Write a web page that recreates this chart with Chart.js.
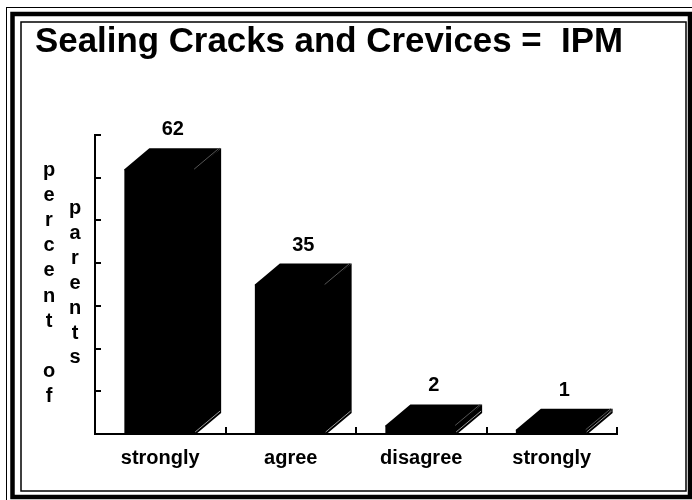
<!DOCTYPE html>
<html>
<head>
<meta charset="utf-8">
<title>Sealing Cracks and Crevices = IPM</title>
<script src="https://cdn.jsdelivr.net/npm/chart.js@4/dist/chart.umd.min.js"></script>
<style>
  html, body { margin: 0; padding: 0; background: #fff; }
  #wrap { width: 692px; height: 500px; position: relative; }
</style>
</head>
<body>
<div id="wrap"><canvas id="ipmChart" width="692" height="500"></canvas></div>
<script>
// Chart data
var chartTitle = 'Sealing Cracks and Crevices =  IPM';
var categories = ['strongly', 'agree', 'disagree', 'strongly'];
var percentValues = [62, 35, 2, 1];
var yTicks = [0, 10, 20, 30, 40, 50, 60, 70];
var yLabelCol1 = ['p', 'e', 'r', 'c', 'e', 'n', 't', '', 'o', 'f'];
var yLabelCol2 = ['p', 'a', 'r', 'e', 'n', 't', 's'];

var FONT = '"Liberation Sans", Arial, Helvetica, sans-serif';
// depth of the fake 3D box
var DEPTH_X = 25;
var DEPTH_Y = 21;

Chart.defaults.color = '#000';
Chart.defaults.font.family = FONT;

// Draws the double frame, the title and the stacked y axis letters
var framePlugin = {
    id: 'frame',
    beforeDraw: function (chart) {
        var ctx = chart.ctx;
        ctx.save();
        ctx.fillStyle = '#fff';
        ctx.fillRect(0, 0, chart.width, chart.height);
        ctx.strokeStyle = '#000';
        // outer thin line
        ctx.lineWidth = 1;
        ctx.strokeRect(6.5, 7.5, 720, 620);
        // thick line
        ctx.lineWidth = 4.5;
        ctx.strokeRect(12.5, 14, 677.5, 483);
        // inner thin line
        ctx.lineWidth = 1.5;
        ctx.strokeRect(21, 22, 665, 469);
        ctx.restore();
    },
    afterDraw: function (chart) {
        var ctx = chart.ctx;
        ctx.save();
        ctx.fillStyle = '#000';
        // title
        ctx.font = 'bold 35px ' + FONT;
        ctx.textAlign = 'left';
        ctx.textBaseline = 'alphabetic';
        ctx.fillText(chartTitle, 35, 52, 588);
        // y axis title, one letter per line
        ctx.font = 'bold 20px ' + FONT;
        ctx.textAlign = 'center';
        for (var i = 0; i < yLabelCol1.length; i++) {
            ctx.fillText(yLabelCol1[i], 49, 176 + i * 25.1);
        }
        for (var j = 0; j < yLabelCol2.length; j++) {
            ctx.fillText(yLabelCol2[j], 75, 214 + j * 24.9);
        }
        ctx.restore();
    }
};

// Draws inward tick marks on both axes
var ticksPlugin = {
    id: 'innerTicks',
    afterDraw: function (chart) {
        var ctx = chart.ctx;
        var area = chart.chartArea;
        var yScale = chart.scales.y;
        ctx.save();
        ctx.strokeStyle = '#000';
        ctx.lineWidth = 2;
        ctx.beginPath();
        yScale.ticks.forEach(function (t) {
            var py = Math.round(yScale.getPixelForValue(t.value));
            ctx.moveTo(area.left, py);
            ctx.lineTo(area.left + 6, py);
        });
        // category boundaries on the x axis
        var n = categories.length;
        for (var i = 1; i <= n; i++) {
            var px = Math.round(area.left + i * (area.right - area.left) / n);
            ctx.moveTo(px, area.bottom);
            ctx.lineTo(px, area.bottom - 7);
        }
        ctx.stroke();
        ctx.restore();
    }
};

// Turns the flat bars into black boxes and writes the values on top
var boxPlugin = {
    id: 'box3d',
    afterDatasetsDraw: function (chart) {
        var ctx = chart.ctx;
        var meta = chart.getDatasetMeta(0);
        ctx.save();
        meta.data.forEach(function (bar, idx) {
            var p = bar.getProps(['x', 'y', 'base', 'width'], true);
            var left = p.x - p.width / 2;
            var right = p.x + p.width / 2;
            var top = p.y;
            var base = p.base;
            ctx.fillStyle = '#000';
            // top face (overlaps the front a little so no seam shows)
            ctx.beginPath();
            ctx.moveTo(left, top + 1);
            ctx.lineTo(left, top);
            ctx.lineTo(left + DEPTH_X, top - DEPTH_Y);
            ctx.lineTo(right + DEPTH_X, top - DEPTH_Y);
            ctx.lineTo(right, top + 1);
            ctx.closePath();
            ctx.fill();
            // side face
            ctx.beginPath();
            ctx.moveTo(right - 1, top);
            ctx.lineTo(right + DEPTH_X, top - DEPTH_Y);
            ctx.lineTo(right + DEPTH_X, base - DEPTH_Y);
            ctx.lineTo(right, base);
            ctx.lineTo(right - 1, base);
            ctx.closePath();
            ctx.fill();
            // faint edges
            ctx.strokeStyle = '#555';
            ctx.lineWidth = 1;
            ctx.beginPath();
            ctx.moveTo(right - 2, top);
            ctx.lineTo(right + DEPTH_X - 2, top - DEPTH_Y);
            ctx.stroke();
            ctx.strokeStyle = '#999';
            ctx.beginPath();
            ctx.moveTo(right - 1, base - 2);
            ctx.lineTo(right + DEPTH_X - 1, base - DEPTH_Y - 2);
            ctx.stroke();
            // value label
            ctx.fillStyle = '#000';
            ctx.font = 'bold 20px ' + FONT;
            ctx.textAlign = 'center';
            ctx.textBaseline = 'alphabetic';
            ctx.fillText(String(percentValues[idx]), p.x + DEPTH_X / 2, top - DEPTH_Y - 13);
        });
        ctx.restore();
    }
};

var ctx = document.getElementById('ipmChart').getContext('2d');
var ipmChart = new Chart(ctx, {
    type: 'bar',
    data: {
        labels: categories,
        datasets: [{
            data: percentValues,
            backgroundColor: '#000',
            borderWidth: 0,
            categoryPercentage: 1,
            barPercentage: 0.55
        }]
    },
    options: {
        responsive: false,
        animation: false,
        layout: {
            padding: { left: 87, right: 75, top: 135, bottom: 26 }
        },
        plugins: {
            legend: { display: false },
            title: { display: false },
            tooltip: { enabled: false }
        },
        scales: {
            x: {
                grid: { display: false },
                border: { display: true, color: '#000', width: 2 },
                ticks: {
                    color: '#000',
                    padding: 4,
                    maxRotation: 0,
                    font: { size: 20, weight: 'bold', family: FONT }
                }
            },
            y: {
                min: 0,
                max: yTicks[yTicks.length - 1],
                afterBuildTicks: function (scale) {
                    scale.ticks = yTicks.map(function (v) { return { value: v }; });
                },
                grid: { display: false },
                border: { display: true, color: '#000', width: 2 },
                ticks: { display: false }
            }
        }
    },
    plugins: [framePlugin, ticksPlugin, boxPlugin]
});
</script>
</body>
</html>
